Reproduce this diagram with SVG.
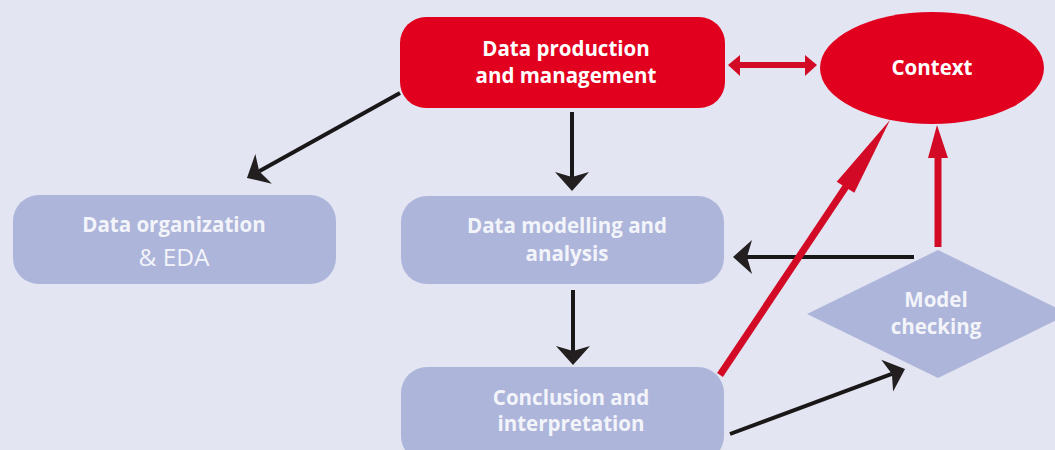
<svg xmlns="http://www.w3.org/2000/svg" width="1055" height="450" viewBox="0 0 1055 450">
<style>
.bg{fill:#e3e5f2}
.red{fill:#e2001f}
.blue{fill:#adb5da}
.t{font-family:"Open Sans","Liberation Sans",Arial,sans-serif;font-weight:bold;font-size:20.5px;fill:#ffffff;text-anchor:middle}
.tb{fill:#f3f4fa}
.tr{font-weight:normal;font-size:24.5px}
.blk{stroke:#1a1718;stroke-width:4;fill:none}
.rl{stroke:#d30a25;fill:none}
.rh{fill:#d30a25}
</style>
<defs>
<marker id="ah" markerUnits="userSpaceOnUse" markerWidth="40" markerHeight="40" refX="0" refY="0" orient="auto" overflow="visible">
<path d="M14,0 L-5,-17 L0,0 L-5,17 Z" fill="#231f20"/>
</marker>
</defs>
<rect class="bg" x="0" y="0" width="1055" height="450"/>

<g id="connectors">
<line class="blk" x1="400" y1="93" x2="259.2" y2="171.2" marker-end="url(#ah)"/>
<line class="blk" x1="572" y1="112" x2="572" y2="177" marker-end="url(#ah)"/>
<line class="blk" x1="573" y1="290" x2="573" y2="351" marker-end="url(#ah)"/>
<line class="blk" x1="914" y1="257" x2="747" y2="257" marker-end="url(#ah)"/>
<line class="blk" x1="730" y1="434" x2="891.9" y2="373.9" marker-end="url(#ah)"/>
<line class="rl" stroke-width="7" x1="720" y1="375" x2="847" y2="185"/>
<polygon class="rh" points="890,120 854.3,192.7 836.7,181.7"/>
<line class="rl" stroke-width="7" x1="938" y1="247" x2="938" y2="155"/>
<polygon class="rh" points="937,125 948,158 928,158"/>
<line class="rl" stroke-width="6" x1="738" y1="65" x2="807" y2="65"/>
<polygon class="rh" points="728,65 740,55 740,76"/>
<polygon class="rh" points="817,65 805,55 805,76"/>
</g>

<g id="data-production">
<rect class="red" x="400" y="17" width="325" height="91" rx="26"/>
<text class="t" x="566" y="56">Data production</text>
<text class="t" x="566" y="83">and management</text>
</g>

<g id="context">
<ellipse class="red" cx="932" cy="68" rx="112" ry="56"/>
<text class="t" x="932" y="75">Context</text>
</g>

<g id="data-organization">
<rect class="blue" x="13" y="195" width="323" height="89" rx="26"/>
<text class="t tb" x="174" y="232">Data organization</text>
<text class="t tb tr" x="174" y="266">&amp; EDA</text>
</g>

<g id="data-modelling">
<rect class="blue" x="401" y="196" width="323" height="88" rx="26"/>
<text class="t tb" x="567" y="233">Data modelling and</text>
<text class="t tb" x="567" y="261">analysis</text>
</g>

<g id="conclusion">
<rect class="blue" x="401" y="367" width="323" height="95" rx="26"/>
<text class="t tb" x="571" y="405">Conclusion and</text>
<text class="t tb" x="571" y="431">interpretation</text>
</g>

<g id="model-checking">
<polygon class="blue" points="938,250 1069,314 938,378 807,314"/>
<text class="t tb" x="936" y="307">Model</text>
<text class="t tb" x="936" y="334">checking</text>
</g>
</svg>
